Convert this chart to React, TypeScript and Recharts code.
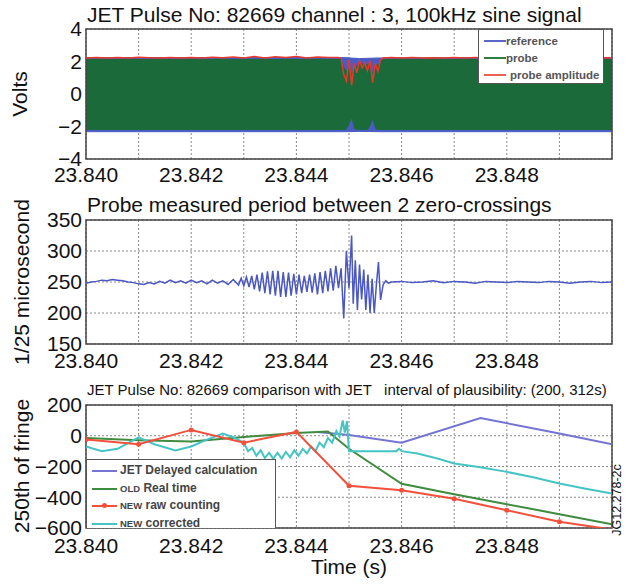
import React from 'react';
import {
  ComposedChart,
  Line,
  Area,
  XAxis,
  YAxis,
  CartesianGrid,
  ReferenceArea,
  Legend,
} from 'recharts';

const FONT = '"Liberation Sans", Arial, Helvetica, sans-serif';

// shared time axis (s)
const timeTicks = [23.84, 23.841, 23.842, 23.843, 23.844, 23.845, 23.846, 23.847, 23.848, 23.849];
const timeTickLabels = ['23.840', '', '23.842', '', '23.844', '', '23.846', '', '23.848', ''];

const voltTicks = [-4, -2, 0, 2, 4];
const periodTicks = [150, 200, 250, 300, 350];
const fringeTicks = [-600, -400, -200, 0, 200];

// panel 1: 100kHz sine, drawn as its envelope
const signalTimes = [
  23.84, 23.8402, 23.8404, 23.8406, 23.8408, 23.841, 23.8412, 23.8414, 23.8416, 23.8418,
  23.842, 23.8422, 23.8424, 23.8426, 23.8428, 23.843, 23.8432, 23.8434, 23.8436, 23.8438,
  23.844, 23.8442, 23.8444, 23.8446, 23.8448,
  23.84485, 23.8449, 23.84495, 23.845, 23.84505, 23.8451, 23.84515, 23.8452, 23.84525,
  23.8453, 23.84535, 23.8454, 23.84545, 23.8455, 23.84555, 23.8456, 23.84565,
  23.8458, 23.846, 23.8462, 23.8464, 23.8466, 23.8468, 23.847, 23.8472, 23.8474, 23.8476,
  23.8478, 23.848, 23.8482, 23.8484, 23.8486, 23.8488, 23.849, 23.8492, 23.8494, 23.8496,
  23.8498, 23.85,
];
const probeAmplitude = [
  2.22, 2.25, 2.21, 2.24, 2.22, 2.26, 2.23, 2.21, 2.25, 2.22,
  2.24, 2.21, 2.26, 2.23, 2.28, 2.22, 2.3, 2.21, 2.29, 2.24,
  2.31, 2.22, 2.28, 2.25, 2.24,
  2.2, 1.2, 0.8, 2.1, 0.55, 1.9, 1.3, 2.05, 1.6,
  1.9, 1.45, 2.05, 0.7, 1.9, 1.4, 2.1, 2.22,
  2.24, 2.21, 2.25, 2.22, 2.23, 2.21, 2.24, 2.22, 2.25, 2.21,
  2.23, 2.22, 2.24, 2.21, 2.25, 2.22, 2.23, 2.21, 2.24, 2.22,
  2.23, 2.22,
];
const probeHigh = [
  2.16, 2.17, 2.16, 2.16, 2.17, 2.16, 2.16, 2.17, 2.16, 2.16,
  2.17, 2.16, 2.16, 2.17, 2.16, 2.16, 2.17, 2.16, 2.16, 2.17,
  2.16, 2.16, 2.17, 2.16, 2.16,
  2.15, 1.7, 1.4, 2.0, 1.2, 1.9, 1.7, 2.0, 1.85,
  1.9, 1.8, 2.0, 1.3, 1.9, 1.8, 2.05, 2.15,
  2.16, 2.17, 2.16, 2.16, 2.17, 2.16, 2.16, 2.17, 2.16, 2.16,
  2.17, 2.16, 2.16, 2.17, 2.16, 2.16, 2.17, 2.16, 2.16, 2.17,
  2.16, 2.16,
];
const probeLow = [
  -2.22, -2.21, -2.22, -2.22, -2.21, -2.22, -2.22, -2.21, -2.22, -2.22,
  -2.21, -2.22, -2.22, -2.21, -2.22, -2.22, -2.21, -2.22, -2.22, -2.21,
  -2.22, -2.22, -2.21, -2.22, -2.22,
  -2.22, -2.22, -2.2, -1.9, -1.5, -2.15, -2.2, -2.22, -2.22,
  -2.2, -2.22, -2.0, -1.6, -2.15, -2.22, -2.22, -2.22,
  -2.22, -2.21, -2.22, -2.22, -2.21, -2.22, -2.22, -2.21, -2.22, -2.22,
  -2.21, -2.22, -2.22, -2.21, -2.22, -2.22, -2.21, -2.22, -2.22, -2.21,
  -2.22, -2.22,
];
const referenceTimes = [23.84, 23.8449, 23.8452, 23.8456, 23.85];
const referenceHigh = [2.24, 2.24, 2.18, 2.22, 2.24];
const referenceLow = [-2.32, -2.32, -2.3, -2.32, -2.32];

// panel 2: measured period (1/25 us)
const periodTimes = [
  23.84, 23.8401, 23.8402, 23.8403, 23.8404, 23.8405, 23.8406, 23.8407, 23.8408, 23.8409,
  23.841, 23.8411, 23.8412, 23.8413, 23.8414, 23.8415, 23.8416, 23.8417, 23.8418, 23.8419,
  23.842, 23.8421, 23.8422, 23.8423, 23.8424, 23.8425, 23.8426, 23.8427, 23.8428,
  23.8429, 23.84295, 23.843, 23.84305, 23.8431, 23.84315, 23.8432, 23.84325, 23.8433, 23.84335,
  23.8434, 23.84345, 23.8435, 23.84355, 23.8436, 23.84365, 23.8437, 23.84375, 23.8438, 23.84385,
  23.8439, 23.84395, 23.844, 23.84405, 23.8441, 23.84415, 23.8442, 23.84425, 23.8443, 23.84435,
  23.8444, 23.84445, 23.8445, 23.84455, 23.8446, 23.84465, 23.8447, 23.84475, 23.8448, 23.84485,
  23.8449, 23.84495, 23.845, 23.84505, 23.84508, 23.84512, 23.84516, 23.8452, 23.84524, 23.84528,
  23.84532, 23.84536, 23.8454, 23.84544, 23.84548, 23.84552, 23.84556, 23.8456, 23.84565, 23.8457,
  23.84575, 23.8458,
  23.846, 23.8462, 23.8464, 23.8466, 23.8468, 23.847, 23.8472, 23.8474, 23.8476, 23.8478,
  23.848, 23.8482, 23.8484, 23.8486, 23.8488, 23.849, 23.8492, 23.8494, 23.8496, 23.8498, 23.85,
];
const periodValues = [
  248, 250, 251, 253, 252, 254, 253, 252, 250, 249,
  247, 246, 249, 247, 251, 248, 253, 249, 252, 248,
  253, 249, 252, 247, 253, 248, 252, 246, 254,
  245, 256, 244, 258, 242, 260, 238, 262, 235, 265,
  232, 267, 230, 268, 228, 268, 226, 266, 226, 265,
  228, 263, 230, 262, 232, 260, 234, 262, 233, 264,
  230, 266, 232, 268, 235, 272, 236, 276, 240, 272,
  191, 300, 240, 325, 215, 285, 205, 278, 222, 270,
  205, 262, 200, 255, 200, 245, 282, 221, 246, 252,
  248, 250,
  251, 249, 250, 252, 249, 251, 250, 248, 251, 250,
  249, 251, 250, 249, 251, 250, 248, 250, 251, 249, 250,
];

// panel 3: fringe counting comparison
const jetTimes = [23.8444, 23.845, 23.846, 23.8475, 23.849, 23.85];
const jetValues = [25, 5, -45, 115, 15, -55];

const oldTimes = [23.84, 23.841, 23.842, 23.843, 23.844, 23.8446, 23.845, 23.846, 23.847, 23.848, 23.849, 23.85];
const oldValues = [-15, -30, -38, -8, 18, 28, -85, -312, -380, -445, -510, -575];

const rawTimes = [23.84, 23.841, 23.842, 23.843, 23.844, 23.845, 23.846, 23.847, 23.848, 23.849, 23.85];
const rawValues = [-25, -55, 38, -45, 25, -325, -355, -410, -485, -560, -610];

const corrTimes = [
  23.84, 23.8403, 23.8406, 23.841, 23.8413, 23.8417, 23.842, 23.8423, 23.8426, 23.8428,
  23.843, 23.84308, 23.84316, 23.84324, 23.84332, 23.8434, 23.84348, 23.84356, 23.84364, 23.84372,
  23.8438, 23.84388, 23.84396, 23.84404, 23.84412, 23.8442, 23.84428, 23.84436, 23.84444, 23.84452,
  23.8446, 23.84468, 23.84476, 23.84482, 23.84488, 23.84492, 23.84496, 23.845, 23.8459, 23.84595,
  23.846, 23.8463, 23.8467, 23.847, 23.8475, 23.848, 23.8485, 23.849, 23.8495, 23.85,
];
const corrValues = [
  -70, -100, -85, -10, -55, -95, -70, -25, 15, -10,
  -45, -100, -80, -130, -95, -145, -110, -150, -110, -148,
  -105, -140, -95, -130, -85, -115, -70, -100, -45, -75,
  -15, -45, 30, -5, 100, 20, 95, -100, -100, -85,
  -100, -115, -150, -180, -205, -235, -270, -310, -345, -375,
];

const signalRows = signalTimes.map((t, i) => ({
  t,
  probe: [probeLow[i], probeHigh[i]],
  amp: probeAmplitude[i],
}));
const referenceRows = referenceTimes.map((t, i) => ({ t, ref: [referenceLow[i], referenceHigh[i]] }));
const periodRows = periodTimes.map((t, i) => ({ t, period: periodValues[i] }));
const toRows = (ts: number[], vs: number[]) => ts.map((t, i) => ({ t, v: vs[i] }));
const jetRows = toRows(jetTimes, jetValues);
const oldRows = toRows(oldTimes, oldValues);
const rawRows = toRows(rawTimes, rawValues);
const corrRows = toRows(corrTimes, corrValues);

const fmtY = (v: number) => (v < 0 ? `\u2212${-v}` : `${v}`);
const fmtT = (_v: number, i: number) => timeTickLabels[i];
const tickStyle = { fontSize: 21, fill: '#111', fontFamily: FONT };

function SignalLegend() {
  const rows = [
    { label: 'reference', color: '#5b66c8', pad: 0 },
    { label: 'probe', color: '#2f7d3f', pad: 0 },
    { label: 'probe amplitude', color: '#f06050', pad: 4 },
  ];
  return (
    <div style={{ position: 'relative', width: 126, height: 55, boxSizing: 'border-box', border: '1.5px solid #555', background: '#fff', fontFamily: FONT, fontSize: 11.5, fontWeight: 700, color: '#555' }}>
      {rows.map((r, i) => (
        <div key={r.label} style={{ position: 'absolute', left: 0, top: 3 + i * 17, height: 16, width: '100%' }}>
          <div style={{ position: 'absolute', left: 5, top: 7, width: 22, height: 2, background: r.color }} />
          <span style={{ position: 'absolute', left: 27 + r.pad, top: 0, lineHeight: '16px', whiteSpace: 'nowrap' }}>{r.label}</span>
        </div>
      ))}
    </div>
  );
}

function FringeLegend() {
  const small = { fontSize: 9.5 };
  const rows = [
    { key: 'jet', color: '#7474d4', label: <>JET Delayed calculation</> },
    { key: 'old', color: '#3f8b3f', label: <><span style={small}>OLD</span> Real time</> },
    { key: 'raw', color: '#f0503c', label: <><span style={small}>NEW</span> raw counting</>, marker: true },
    { key: 'cor', color: '#45c4c4', label: <><span style={small}>NEW</span> corrected</> },
  ];
  return (
    <div style={{ position: 'relative', width: 190, height: 69, boxSizing: 'border-box', border: '1.5px solid #555', borderBottom: 'none', background: '#fff', fontFamily: FONT, fontSize: 12, fontWeight: 700, color: '#444' }}>
      {rows.map((r, i) => (
        <div key={r.key} style={{ position: 'absolute', left: 0, top: 2 + i * 17.5, height: 17, width: '100%' }}>
          <div style={{ position: 'absolute', left: 5, top: 8, width: 25, height: 2, background: r.color }} />
          {r.marker && (
            <div style={{ position: 'absolute', left: 15, top: 6, width: 5, height: 5, borderRadius: 3, background: r.color }} />
          )}
          <span style={{ position: 'absolute', left: 33, top: 0, lineHeight: '17px', whiteSpace: 'nowrap' }}>{r.label}</span>
        </div>
      ))}
    </div>
  );
}

const gridProps = { stroke: '#8a8a8a', strokeDasharray: '2 2' };

export default function App() {
  return (
    <div style={{ position: 'absolute', left: 0, top: 0, width: 625, height: 585, background: '#fff', fontFamily: FONT }}>
      <div style={{ position: 'absolute', left: 0, top: 0 }}>
        <ComposedChart width={625} height={190} data={signalRows} margin={{ top: 29, right: 13, bottom: 0, left: 0 }}>
          <CartesianGrid {...gridProps} />
          <XAxis dataKey="t" type="number" domain={[23.84, 23.85]} ticks={timeTicks} tickFormatter={fmtT} interval={0}
            tickLine={false} axisLine={false} height={31} tickSize={5} tickMargin={3} tick={tickStyle} allowDataOverflow />
          <YAxis type="number" domain={[-4, 4]} ticks={voltTicks} tickFormatter={fmtY} interval={0} width={86}
            tickLine={false} axisLine={false} tickSize={4} tickMargin={0} tick={tickStyle} allowDataOverflow />
          <Area data={referenceRows} dataKey="ref" type="linear" stroke="#4a5bc4" strokeWidth={1} fill="#4a5bc4" fillOpacity={1} isAnimationActive={false} />
          <Area dataKey="probe" type="linear" stroke="none" fill="#1b6b3a" fillOpacity={1} isAnimationActive={false} />
          <Line dataKey="amp" type="linear" stroke="#e8382c" strokeWidth={1.5} dot={false} isAnimationActive={false} />
          <ReferenceArea x1={23.84} x2={23.85} y1={-4} y2={4} fill="none" stroke="#444" strokeWidth={1.5} ifOverflow="visible" />
          <Legend layout="horizontal" verticalAlign="middle" align="center" content={() => <SignalLegend />}
            wrapperStyle={{ left: 478, top: 29, width: 126, height: 55, right: 'auto', bottom: 'auto' }} />
        </ComposedChart>
      </div>

      <div style={{ position: 'absolute', left: 0, top: 185 }}>
        <ComposedChart width={625} height={190} data={periodRows} margin={{ top: 35, right: 13, bottom: 0, left: 0 }}>
          <CartesianGrid {...gridProps} />
          <XAxis dataKey="t" type="number" domain={[23.84, 23.85]} ticks={timeTicks} tickFormatter={fmtT} interval={0}
            tickLine={false} axisLine={false} height={31} tickSize={6} tickMargin={3} tick={tickStyle} allowDataOverflow />
          <YAxis type="number" domain={[150, 350]} ticks={periodTicks} interval={0} width={86}
            tickLine={false} axisLine={false} tickSize={4} tickMargin={0} tick={tickStyle} allowDataOverflow />
          <Line dataKey="period" type="linear" stroke="#4b57c2" strokeWidth={1.5} dot={false} isAnimationActive={false} />
          <ReferenceArea x1={23.84} x2={23.85} y1={150} y2={350} fill="none" stroke="#444" strokeWidth={1.5} ifOverflow="visible" />
        </ComposedChart>
      </div>

      <div style={{ position: 'absolute', left: 0, top: 370 }}>
        <ComposedChart width={625} height={215} margin={{ top: 35, right: 13, bottom: 0, left: 0 }}>
          <CartesianGrid {...gridProps} />
          <XAxis dataKey="t" type="number" domain={[23.84, 23.85]} ticks={timeTicks} tickFormatter={fmtT} interval={0}
            tickLine={false} axisLine={false} height={57} tickSize={6} tickMargin={4} tick={tickStyle} allowDataOverflow />
          <YAxis type="number" domain={[-600, 200]} ticks={fringeTicks} tickFormatter={fmtY} interval={0} width={86}
            tickLine={false} axisLine={false} tickSize={4} tickMargin={0} tick={tickStyle} allowDataOverflow />
          <Line data={jetRows} dataKey="v" name="JET Delayed calculation" type="linear" stroke="#7474d4" strokeWidth={2} dot={false} isAnimationActive={false} />
          <Line data={oldRows} dataKey="v" name="OLD Real time" type="linear" stroke="#3f8b3f" strokeWidth={2} dot={false} isAnimationActive={false} />
          <Line data={corrRows} dataKey="v" name="NEW corrected" type="linear" stroke="#45c4c4" strokeWidth={2} dot={false} isAnimationActive={false} />
          <Line data={rawRows} dataKey="v" name="NEW raw counting" type="linear" stroke="#f0503c" strokeWidth={2}
            dot={{ r: 2.5, fill: '#f0503c', stroke: '#f0503c', strokeWidth: 0 }} isAnimationActive={false} />
          <ReferenceArea x1={23.84} x2={23.85} y1={-600} y2={200} fill="none" stroke="#444" strokeWidth={1.5} ifOverflow="visible" />
          <Legend layout="horizontal" verticalAlign="middle" align="center" content={() => <FringeLegend />}
            wrapperStyle={{ left: 86, top: 89, width: 190, height: 69, right: 'auto', bottom: 'auto' }} />
        </ComposedChart>
      </div>

      <svg width={625} height={585} style={{ position: 'absolute', left: 0, top: 0, pointerEvents: 'none' }}
        fontFamily={FONT} fill="#111">
        <text x={87} y={22} fontSize={21}>JET Pulse No: 82669 channel : 3, 100kHz sine signal</text>
        <text x={87} y={212} fontSize={21}>Probe measured period between 2 zero-crossings</text>
        <text x={87} y={395} fontSize={15} style={{ whiteSpace: 'pre' }}>JET Pulse No: 82669 comparison with JET   interval of plausibility: (200, 312s)</text>
        <text transform="translate(27,94) rotate(-90)" textAnchor="middle" fontSize={21}>Volts</text>
        <text transform="translate(29,282) rotate(-90)" textAnchor="middle" fontSize={21}>1/25 microsecond</text>
        <text transform="translate(29,466) rotate(-90)" textAnchor="middle" fontSize={21}>250th of fringe</text>
        <text transform="translate(621,500) rotate(-90)" textAnchor="middle" fontSize={12.5}>JG12.278-2c</text>
        <text x={349} y={574} textAnchor="middle" fontSize={21}>Time (s)</text>
      </svg>
    </div>
  );
}
